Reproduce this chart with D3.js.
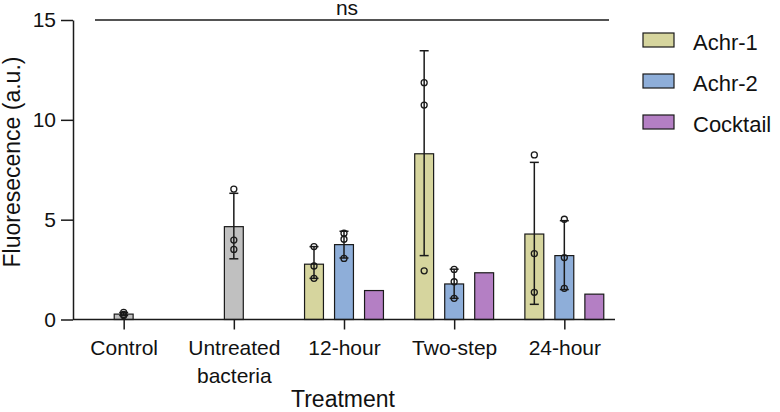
<!DOCTYPE html>
<html>
<head>
<meta charset="utf-8">
<script src="https://cdn.jsdelivr.net/npm/d3@7"></script>
<style>
  html, body { margin: 0; padding: 0; background: #fff; }
  svg { display: block; font-family: "Liberation Sans", Arial, sans-serif; }
</style>
</head>
<body>
<svg id="chart" width="780" height="412"></svg>
<script>
// ---- Data ----
const categories = ["Control", "Untreated bacteria", "12-hour", "Two-step", "24-hour"];
const series = ["Achr-1", "Achr-2", "Cocktail"];
const yTicks = [0, 5, 10, 15];

const singleCats = ["Control", "Untreated bacteria"];
const singleMeans = [0.27, 4.65];
const singleLow = [0.2, 3.04];
const singleHigh = [0.35, 6.32];
const singlePoints = [[0.36, 0.25, 0.2], [6.53, 3.98, 3.51]];

const groupCats = ["12-hour", "Two-step", "24-hour"];
const achr1Means = [2.77, 8.3, 4.28];
const achr1Low = [2.06, 3.2, 0.76];
const achr1High = [3.65, 13.46, 7.87];
const achr1Points = [[3.65, 2.68, 2.06], [11.86, 10.74, 2.44], [8.24, 3.3, 1.36]];

const achr2Means = [3.75, 1.78, 3.2];
const achr2Low = [3.08, 1.06, 1.5];
const achr2High = [4.42, 2.52, 4.95];
const achr2Points = [[4.32, 4.02, 3.06], [2.51, 1.89, 1.06], [5.02, 3.1, 1.56]];

const cocktailMeans = [1.45, 2.34, 1.27];

const sigLabel = "ns";
const sigValue = 15;

// ---- Styles ----
const colors = { "Achr-1": "#d6d59e", "Achr-2": "#8eaed9", "Cocktail": "#b47fc4", "single": "#c0c0c0" };
const FONT = '"Liberation Sans", Arial, sans-serif';

// ---- Layout ----
const svg = d3.select("#chart");
const x0 = 73, x1 = 615, yTop = 20, yBottom = 319.5;

const x = d3.scalePoint().domain(categories).range([x0, x1]).padding(0.46);
const xs = d3.scaleBand().domain(series).range([-45, 45]).paddingInner(0.37).paddingOuter(0.185);
const y = d3.scaleLinear().domain([0, 15]).range([yBottom, yTop]);
const bw = xs.bandwidth();

// Build bar records
const bars = [];
singleCats.forEach((c, i) => bars.push({
  cx: x(c), mean: singleMeans[i], low: singleLow[i], high: singleHigh[i],
  pts: singlePoints[i], fill: colors.single
}));
groupCats.forEach((c, i) => {
  bars.push({ cx: x(c) + xs("Achr-1") + bw / 2, mean: achr1Means[i], low: achr1Low[i], high: achr1High[i], pts: achr1Points[i], fill: colors["Achr-1"] });
  bars.push({ cx: x(c) + xs("Achr-2") + bw / 2, mean: achr2Means[i], low: achr2Low[i], high: achr2High[i], pts: achr2Points[i], fill: colors["Achr-2"] });
  bars.push({ cx: x(c) + xs("Cocktail") + bw / 2, mean: cocktailMeans[i], low: null, high: null, pts: [], fill: colors["Cocktail"] });
});

// Bars
svg.append("g").selectAll("rect").data(bars).join("rect")
  .attr("x", d => d.cx - bw / 2)
  .attr("y", d => y(d.mean))
  .attr("width", bw)
  .attr("height", d => y(0) - y(d.mean))
  .attr("fill", d => d.fill)
  .attr("stroke", "#1a1a1a")
  .attr("stroke-width", 1.2);

// Error bars
const eb = svg.append("g").attr("stroke", "#1a1a1a").attr("stroke-width", 1.5).attr("fill", "none");
bars.filter(d => d.low !== null).forEach(d => {
  eb.append("line").attr("x1", d.cx).attr("x2", d.cx).attr("y1", y(d.low)).attr("y2", y(d.high));
  eb.append("line").attr("x1", d.cx - 4.5).attr("x2", d.cx + 4.5).attr("y1", y(d.low)).attr("y2", y(d.low));
  eb.append("line").attr("x1", d.cx - 4.5).attr("x2", d.cx + 4.5).attr("y1", y(d.high)).attr("y2", y(d.high));
});

// Points
const pts = [];
bars.forEach(d => d.pts.forEach(v => pts.push({ cx: d.cx, v })));
svg.append("g").selectAll("circle").data(pts).join("circle")
  .attr("cx", d => d.cx)
  .attr("cy", d => y(d.v))
  .attr("r", 3)
  .attr("fill", "none")
  .attr("stroke", "#1a1a1a")
  .attr("stroke-width", 1.3);

// Y axis
const yAxis = svg.append("g").attr("transform", `translate(${x0},0)`)
  .call(d3.axisLeft(y).tickValues(yTicks).tickSize(12).tickPadding(5).tickSizeOuter(0));
yAxis.select(".domain").attr("stroke", "#1a1a1a").attr("stroke-width", 1.5);
yAxis.selectAll(".tick line").attr("stroke", "#1a1a1a").attr("stroke-width", 1.5);
yAxis.selectAll("text").attr("font-family", FONT).attr("font-size", 21).attr("fill", "#111");

// X axis
const xAxis = svg.append("g").attr("transform", `translate(0,${yBottom})`)
  .call(d3.axisBottom(x).tickSize(10).tickSizeOuter(0));
xAxis.select(".domain").attr("stroke", "#1a1a1a").attr("stroke-width", 1.5)
  .attr("d", `M${x0},0H${x1}`);
xAxis.selectAll(".tick line").attr("stroke", "#1a1a1a").attr("stroke-width", 1.5);
xAxis.selectAll("text").each(function (d) {
  const t = d3.select(this).text("").attr("y", 21)
    .attr("font-family", FONT).attr("font-size", 21).attr("fill", "#111");
  const words = d === "Untreated bacteria" ? ["Untreated", "bacteria"] : [d];
  words.forEach((w, i) => t.append("tspan").attr("x", 0).attr("dy", i === 0 ? "0.71em" : "1.31em").text(w));
});

// Axis titles
svg.append("text")
  .attr("transform", `translate(20,162) rotate(-90)`)
  .attr("text-anchor", "middle")
  .attr("font-family", FONT).attr("font-size", 23).attr("fill", "#111")
  .text("Fluoresecence (a.u.)");
svg.append("text")
  .attr("x", 343).attr("y", 407)
  .attr("text-anchor", "middle")
  .attr("font-family", FONT).attr("font-size", 23).attr("fill", "#111")
  .text("Treatment");

// Significance line
svg.append("line")
  .attr("x1", 95).attr("x2", 609)
  .attr("y1", y(sigValue)).attr("y2", y(sigValue))
  .attr("stroke", "#1a1a1a").attr("stroke-width", 1.4);
svg.append("text")
  .attr("x", 347).attr("y", 14.5)
  .attr("text-anchor", "middle")
  .attr("font-family", FONT).attr("font-size", 21).attr("fill", "#111")
  .text(sigLabel);

// Legend
const legend = svg.append("g").attr("transform", "translate(643,33)");
series.forEach((s, i) => {
  const g = legend.append("g").attr("transform", `translate(0,${i * 41})`);
  g.append("rect").attr("x", 0).attr("y", 0).attr("width", 31).attr("height", 14)
    .attr("fill", colors[s]).attr("stroke", "#1a1a1a").attr("stroke-width", 1.2);
  g.append("text").attr("x", 50).attr("y", 16.5)
    .attr("font-family", FONT).attr("font-size", 22).attr("fill", "#111")
    .text(s);
});
</script>
</body>
</html>
